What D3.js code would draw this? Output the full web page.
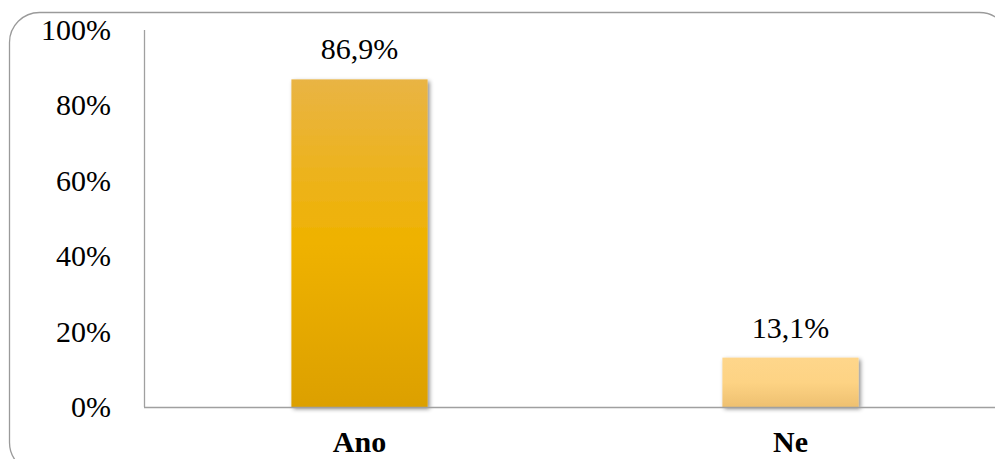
<!DOCTYPE html>
<html>
<head>
<meta charset="utf-8">
<script src="https://cdn.jsdelivr.net/npm/d3@7"></script>
<style>
  html, body { margin: 0; padding: 0; background: #fff; }
  svg { display: block; }
  text { font-family: "Liberation Serif", "Times New Roman", serif; fill: #000; }
</style>
</head>
<body>
<script>
const categories = ["Ano", "Ne"];
const values = [86.9, 13.1];
const valueLabels = ["86,9%", "13,1%"];
const tickValues = [0, 20, 40, 60, 80, 100];

const W = 995, H = 459;
const margin = { left: 144, top: 30, right: -11, bottom: 52 };
const plotW = W - margin.left - margin.right;
const plotH = H - margin.top - margin.bottom;

const svg = d3.select("body").append("svg").attr("width", W).attr("height", H);
const defs = svg.append("defs");

// Gradients for the two bars
const g1 = defs.append("linearGradient").attr("id", "gradAno").attr("x1", 0).attr("y1", 0).attr("x2", 0).attr("y2", 1);
g1.append("stop").attr("offset", "0%").attr("stop-color", "#E9B444");
g1.append("stop").attr("offset", "50%").attr("stop-color", "#EFB200");
g1.append("stop").attr("offset", "100%").attr("stop-color", "#DCA000");

const g2 = defs.append("linearGradient").attr("id", "gradNe").attr("x1", 0).attr("y1", 0).attr("x2", 0).attr("y2", 1);
g2.append("stop").attr("offset", "0%").attr("stop-color", "#FED68B");
g2.append("stop").attr("offset", "50%").attr("stop-color", "#FDD384");
g2.append("stop").attr("offset", "100%").attr("stop-color", "#EEC070");

const shadow = defs.append("filter").attr("id", "barShadow")
  .attr("x", "-20%").attr("y", "-20%").attr("width", "140%").attr("height", "140%");
shadow.append("feDropShadow").attr("dx", 2).attr("dy", 2).attr("stdDeviation", 2.2)
  .attr("flood-color", "#000").attr("flood-opacity", 0.45);

// Rounded outer frame
svg.append("rect")
  .attr("x", 9.5).attr("y", 12.5).attr("width", 1000).attr("height", 460)
  .attr("rx", 30).attr("ry", 30)
  .attr("fill", "#fff").attr("stroke", "#9a9a9a").attr("stroke-width", 1.3);

const x = d3.scaleBand().domain(categories).range([0, plotW]).paddingInner(0.684).paddingOuter(0.342);
const y = d3.scaleLinear().domain([0, 100]).range([plotH, 0]);

const g = svg.append("g").attr("transform", `translate(${margin.left},${margin.top})`);

// Y axis labels
g.selectAll(".ytick").data(tickValues).join("text")
  .attr("class", "ytick")
  .attr("x", -33).attr("y", d => y(d) + 10)
  .attr("text-anchor", "end")
  .attr("font-size", 30)
  .text(d => d + "%");

// Bars
const gradIds = ["url(#gradAno)", "url(#gradNe)"];
g.selectAll(".bar").data(values).join("rect")
  .attr("class", "bar")
  .attr("x", (d, i) => x(categories[i]))
  .attr("y", d => y(d))
  .attr("width", x.bandwidth())
  .attr("height", d => plotH - y(d))
  .attr("fill", (d, i) => gradIds[i])
  .attr("filter", "url(#barShadow)");

// Axis lines
g.append("line").attr("x1", 0.5).attr("x2", 0.5).attr("y1", 0).attr("y2", plotH)
  .attr("stroke", "#a0a0a0").attr("stroke-width", 1.3);
g.append("line").attr("x1", 0).attr("x2", plotW).attr("y1", plotH + 0.5).attr("y2", plotH + 0.5)
  .attr("stroke", "#a0a0a0").attr("stroke-width", 1.3);

// Value labels
g.selectAll(".vlabel").data(values).join("text")
  .attr("class", "vlabel")
  .attr("x", (d, i) => x(categories[i]) + x.bandwidth() / 2)
  .attr("y", d => y(d) - 20)
  .attr("text-anchor", "middle")
  .attr("font-size", 30)
  .text((d, i) => valueLabels[i]);

// Category labels
g.selectAll(".xlabel").data(categories).join("text")
  .attr("class", "xlabel")
  .attr("x", d => x(d) + x.bandwidth() / 2)
  .attr("y", plotH + 45)
  .attr("text-anchor", "middle")
  .attr("font-size", 30).attr("font-weight", "bold")
  .text(d => d);
</script>
</body>
</html>
